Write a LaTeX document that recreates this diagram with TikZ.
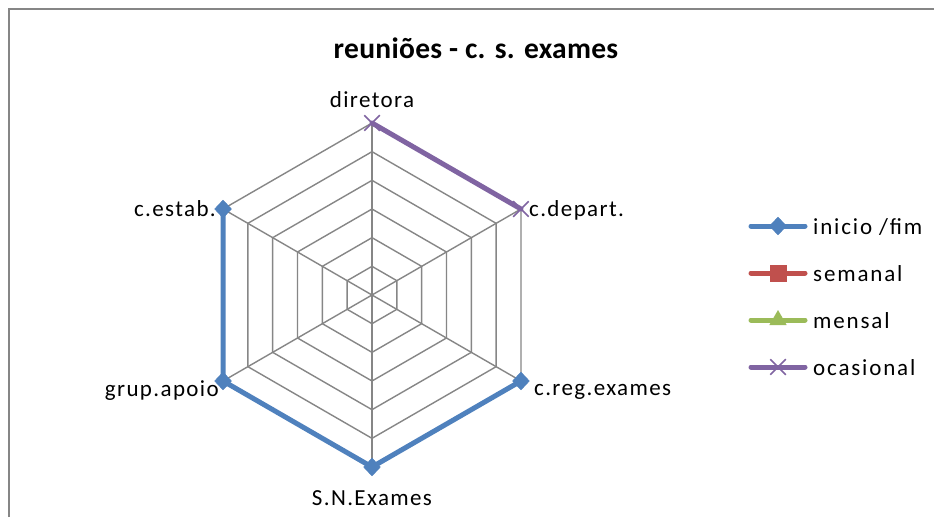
\documentclass[tikz,border=0pt]{standalone}
\usepackage{fontspec}
\setmainfont{Carlito}
\newfontfamily\lblfont{Carlito}[LetterSpace=6]
\newfontfamily\legfont{Carlito}[LetterSpace=8]
\newfontfamily\titfont{Carlito}[LetterSpace=1]
\usetikzlibrary{shapes.geometric,shapes.misc,calc}
\definecolor{sblue}{HTML}{4F81BD}
\definecolor{sred}{HTML}{C0504D}
\definecolor{sgreen}{HTML}{9BBB59}
\definecolor{spurple}{HTML}{8064A2}
\definecolor{gridgray}{HTML}{868686}
\tikzset{
  gridline/.style={draw=gridgray, line width=1.4pt},
  axisline/.style={draw=gridgray, line width=2.2pt},
  frameline/.style={draw=gridgray, line width=2pt},
  serie/.style={line width=5pt, line join=round, line cap=round},
  dmark/.style={diamond, fill=sblue, draw=sblue, inner sep=0pt, minimum width=17pt, minimum height=18pt},
  smark/.style={rectangle, fill=sred, inner sep=0pt, minimum size=17pt},
  tmark/.style={regular polygon, regular polygon sides=3, fill=sgreen, inner sep=0pt, minimum size=20pt},
  xmark/.style={cross out, draw=spurple, line width=1.5pt, inner sep=0pt, minimum size=14pt},
  axlab/.style={font=\lblfont\fontsize{23}{26}\selectfont, inner sep=0pt},
  leglab/.style={font=\legfont\fontsize{23}{26}\selectfont, inner sep=0pt, anchor=base west},
}
\begin{document}
\begin{tikzpicture}[x=1pt,y=-1pt]
\useasboundingbox (0,0) rectangle (934,517);
\fill[white] (0,0) rectangle (934,517);
% frame
\draw[frameline] (9,517) -- (9,9) -- (934,9);
% title
\node[font=\titfont\bfseries\fontsize{29.5}{32}\selectfont, inner sep=0pt, anchor=base] (title) at (476,58) {reuniões - c. s. exames};
% geometry
\coordinate (O) at (372,295);
\foreach \r in {1,...,6}{
  \draw[gridline] ($(O)+(-90:\r*28.667)$) -- ($(O)+(-30:\r*28.667)$) -- ($(O)+(30:\r*28.667)$) -- ($(O)+(90:\r*28.667)$) -- ($(O)+(150:\r*28.667)$) -- ($(O)+(210:\r*28.667)$) -- cycle;
}
\path (O) ++(-90:172) coordinate (v1)
      (O) ++(-30:172) coordinate (v2)
      (O) ++(30:172) coordinate (v3)
      (O) ++(90:172) coordinate (v4)
      (O) ++(150:172) coordinate (v5)
      (O) ++(210:172) coordinate (v6);
\foreach \v in {v2,v3,v4,v5,v6}{ \draw[gridline] (O) -- (\v); }
\draw[axisline] (O) -- (v1);
% axis labels
\node[axlab, anchor=base] (l1) at (372,107) {diretora};
\node[axlab, anchor=base west] (l2) at (529,216) {c.depart.};
\node[axlab, anchor=base west] (l3) at (534,395) {c.reg.exames};
\node[axlab, anchor=base] (l4) at (372,505) {S.N.Exames};
\node[axlab, anchor=base east] (l5) at (219,396) {grup.apoio};
\node[axlab, anchor=base east] (l6) at (216,216) {c.estab.};
% series
\draw[serie, sblue] (v3) -- (v4) -- (v5) -- (v6);
\foreach \v in {v3,v4,v5,v6}{ \node[dmark] at (\v) {}; }
\draw[serie, spurple] (v1) -- (v2);
\foreach \v in {v1,v2}{ \node[xmark] at (\v) {}; }
% legend
\foreach \y/\c/\m/\t [count=\i] in {226/sblue/dmark/{inicio /fim}, 273/sred/smark/{semanal}, 320/sgreen/tmark/{mensal}, 367/spurple/xmark/{ocasional}}{
  \coordinate (a\i) at (751,\y);
  \coordinate (b\i) at (805,\y);
  \draw[serie, \c] (a\i) -- (b\i);
  \node[\m] (m\i) at ($(a\i)!0.5!(b\i)$) {};
  \node[leglab] (t\i) at (813,\y+8) {\t};
}
\end{tikzpicture}
\end{document}
